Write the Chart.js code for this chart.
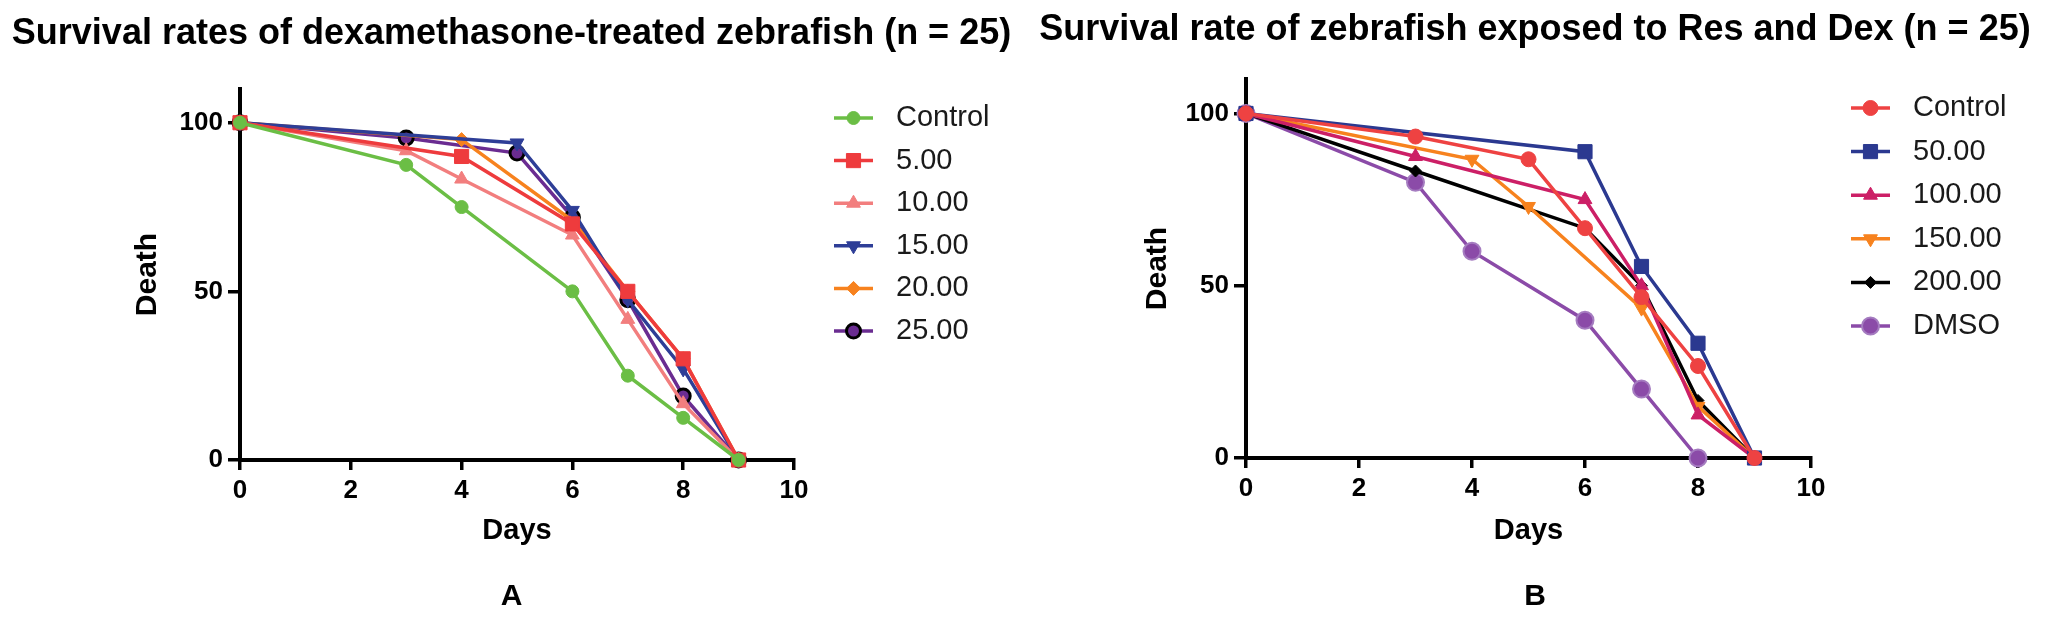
<!DOCTYPE html>
<html>
<head>
<meta charset="utf-8">
<title>Sobrevivência de zebrafish</title>
<script src="https://cdn.jsdelivr.net/npm/chart.js@4.4.1/dist/chart.umd.min.js"></script>
<style>
    html, body { margin: 0; padding: 0; background: #fff; }
    .linha { display: flex; width: 2047px; height: 618px; }
    canvas { display: block; }
</style>
</head>
<body>
<div class="linha">
    <canvas id="graficoA" width="1023" height="618"></canvas>
    <canvas id="graficoB" width="1024" height="618"></canvas>
</div>
<script>
'use strict';

// Marcas dos eixos
const xTicks = [0, 2, 4, 6, 8, 10];
const yTicks = [0, 50, 100];

// Painel A - dexametasona
const aLabels = ['Control', '5.00', '10.00', '15.00', '20.00', '25.00'];
const aControlDays = [0, 3, 4, 6, 7, 8, 9];
const aControlVals = [100, 87.5, 75, 50, 25, 12.5, 0];
const a5Days = [0, 4, 6, 7, 8, 9];
const a5Vals = [100, 90, 70, 50, 30, 0];
const a10Days = [0, 3, 4, 6, 7, 8, 9];
const a10Vals = [100, 91.7, 83.3, 66.7, 41.7, 16.7, 0];
const a15Days = [0, 5, 6, 7, 8, 9];
const a15Vals = [100, 94, 74, 47.5, 27, 0];
const a20Days = [0, 4, 6, 7, 8, 9];
const a20Vals = [100, 95, 71, 50, 30, 0];
const a25Days = [0, 3, 5, 6, 7, 8, 9];
const a25Vals = [100, 95.5, 91, 72, 47.5, 19, 0];

// Painel B - resveratrol + dexametasona
const bLabels = ['Control', '50.00', '100.00', '150.00', '200.00', 'DMSO'];
const bControlDays = [0, 3, 5, 6, 7, 8, 9];
const bControlVals = [100, 93.3, 86.7, 66.7, 46.7, 26.7, 0];
const b50Days = [0, 6, 7, 8, 9];
const b50Vals = [100, 88.9, 55.6, 33.3, 0];
const b100Days = [0, 3, 6, 7, 8, 9];
const b100Vals = [100, 87.5, 75, 50, 12.5, 0];
const b150Days = [0, 4, 5, 7, 8, 9];
const b150Vals = [100, 86.7, 73, 43.5, 15, 0];
const b200Days = [0, 3, 6, 7, 8, 9];
const b200Vals = [100, 83.3, 66.7, 50, 16.7, 0];
const bDmsoDays = [0, 3, 4, 6, 7, 8];
const bDmsoVals = [100, 80, 60, 40, 20, 0];

Chart.defaults.font.family = "'Liberation Sans', Arial, sans-serif";
Chart.defaults.color = '#000';

function pontos(dias, valores) {
    return dias.map((d, i) => ({ x: d, y: valores[i] }));
}

function serie(label, dias, valores, cor, estilo) {
    return Object.assign({
        label: label,
        data: pontos(dias, valores),
        xAxisID: 'x',
        yAxisID: 'y',
        borderColor: cor,
        backgroundColor: cor,
        pointBackgroundColor: cor,
        pointBorderColor: cor,
        borderWidth: 3.5,
        pointBorderWidth: 1,
        pointRadius: 7,
        pointStyle: 'circle',
        pointRotation: 0,
        tension: 0,
        clip: false,
    }, estilo);
}

// Legenda ao lado: linha + marcador + texto
const legendaLateral = {
    id: 'legendaLateral',
    afterDraw(chart, args, opts) {
        const ctx = chart.ctx;
        const area = chart.chartArea;
        ctx.save();
        chart.data.datasets.forEach((ds, i) => {
            const y = area.top + opts.offsetY + i * opts.rowGap;
            const x0 = area.right + opts.offsetX;
            ctx.strokeStyle = ds.borderColor;
            ctx.lineWidth = ds.borderWidth;
            ctx.beginPath();
            ctx.moveTo(x0, y);
            ctx.lineTo(x0 + opts.lineLength, y);
            ctx.stroke();
            ctx.fillStyle = ds.pointBackgroundColor;
            ctx.strokeStyle = ds.pointBorderColor;
            ctx.lineWidth = ds.pointBorderWidth;
            Chart.helpers.drawPoint(ctx, {
                pointStyle: ds.pointStyle,
                rotation: ds.pointRotation,
                radius: ds.pointRadius,
                borderWidth: ds.pointBorderWidth,
            }, x0 + opts.lineLength / 2, y);
            ctx.fillStyle = '#1a1a1a';
            ctx.font = "29px 'Liberation Sans', Arial, sans-serif";
            ctx.textAlign = 'left';
            ctx.textBaseline = 'middle';
            ctx.fillText(ds.label, area.right + opts.textX, y);
        });
        ctx.restore();
    },
};

function opcoes(cfg) {
    return {
        responsive: false,
        animation: false,
        devicePixelRatio: 1,
        layout: { padding: 0 },
        plugins: {
            legend: { display: false },
            tooltip: { enabled: false },
            title: {
                display: true,
                text: cfg.titulo,
                color: '#000',
                font: { size: 36, weight: 'bold', lineHeight: 1.2 },
                padding: { top: cfg.titleTop, bottom: cfg.titleBottom },
            },
            subtitle: {
                display: true,
                position: 'bottom',
                text: cfg.letra,
                color: '#000',
                font: { size: 30, weight: 'bold', lineHeight: 1.2 },
                padding: { top: 31, bottom: 3 },
            },
            legendaLateral: { offsetX: 40, lineLength: 39, textX: 102, offsetY: 29, rowGap: cfg.rowGap },
        },
        scales: {
            x: {
                type: 'linear',
                min: 0,
                max: 10,
                afterBuildTicks: (s) => { s.ticks = xTicks.map((v) => ({ value: v })); },
                afterFit: (s) => { s.height = cfg.xHeight; },
                grid: { drawOnChartArea: false, tickLength: 10, lineWidth: 3.5, color: '#000' },
                border: { display: true, width: 4, color: '#000' },
                ticks: { color: '#000', font: { size: 26, weight: 'bold' }, padding: 5, maxRotation: 0 },
                title: {
                    display: true,
                    text: 'Days',
                    color: '#000',
                    font: { size: 29, weight: 'bold', lineHeight: 1.2 },
                    padding: { top: 0, bottom: 0 },
                },
            },
            y: {
                type: 'linear',
                position: 'left',
                min: 0,
                max: 110,
                afterBuildTicks: (s) => { s.ticks = yTicks.map((v) => ({ value: v })); },
                afterFit: (s) => { s.width = cfg.yWidth; },
                grid: { drawOnChartArea: false, tickLength: 12, lineWidth: 3.5, color: '#000' },
                border: { display: true, width: 4, color: '#000' },
                ticks: { color: '#000', font: { size: 26, weight: 'bold' }, padding: 5 },
                title: {
                    display: true,
                    text: 'Death',
                    color: '#000',
                    font: { size: 30, weight: 'bold', lineHeight: 1.2 },
                    padding: { top: cfg.deathPad, bottom: 0 },
                },
            },
            // espaço reservado para a legenda à direita
            legenda: {
                type: 'linear',
                position: 'right',
                display: true,
                grid: { display: false, drawTicks: false },
                border: { display: false },
                ticks: { display: false },
                afterFit: (s) => { s.width = cfg.legendWidth; },
            },
        },
    };
}

/* Gráfico A */
new Chart(document.getElementById('graficoA'), {
    type: 'line',
    data: {
        datasets: [
            serie(aLabels[0], aControlDays, aControlVals, '#6BBE45', { pointRadius: 6.5 }),
            serie(aLabels[1], a5Days, a5Vals, '#EE3B3D', { pointStyle: 'rect', pointRadius: 10 }),
            serie(aLabels[2], a10Days, a10Vals, '#F27E7E', { pointStyle: 'triangle', pointRadius: 8 }),
            serie(aLabels[3], a15Days, a15Vals, '#2E3E97', { pointStyle: 'triangle', pointRotation: 180, pointRadius: 8 }),
            serie(aLabels[4], a20Days, a20Vals, '#F7821E', { pointStyle: 'rectRot', pointRadius: 7 }),
            serie(aLabels[5], a25Days, a25Vals, '#6A2C91', { pointBorderColor: '#000', pointBorderWidth: 3, pointRadius: 7 }),
        ],
    },
    options: opcoes({
        titulo: 'Survival rates of dexamethasone-treated zebrafish (n = 25)',
        letra: 'A',
        legendWidth: 229,
        titleTop: 12,
        titleBottom: 33.8,
        xHeight: 88,
        yWidth: 240,
        deathPad: 130,
        rowGap: 42.6,
    }),
    plugins: [legendaLateral],
});

/* Gráfico B */
new Chart(document.getElementById('graficoB'), {
    type: 'line',
    data: {
        datasets: [
            serie(bLabels[0], bControlDays, bControlVals, '#EE4242', { pointRadius: 7.5 }),
            serie(bLabels[1], b50Days, b50Vals, '#2B3990', { pointStyle: 'rect', pointRadius: 10 }),
            serie(bLabels[2], b100Days, b100Vals, '#CC1F66', { pointStyle: 'triangle', pointRadius: 8 }),
            serie(bLabels[3], b150Days, b150Vals, '#F7821E', { pointStyle: 'triangle', pointRotation: 180, pointRadius: 8 }),
            serie(bLabels[4], b200Days, b200Vals, '#000000', { pointStyle: 'rectRot', pointRadius: 6 }),
            serie(bLabels[5], bDmsoDays, bDmsoVals, '#8B4BA8', { pointBorderColor: '#A57CC0', pointBorderWidth: 2, pointRadius: 8.5 }),
        ],
    },
    options: opcoes({
        titulo: 'Survival rate of zebrafish exposed to Res and Dex (n = 25)',
        letra: 'B',
        legendWidth: 236,
        titleTop: 8,
        titleBottom: 27.8,
        xHeight: 90,
        yWidth: 223,
        deathPad: 117,
        rowGap: 43.6,
    }),
    plugins: [legendaLateral],
});
</script>
</body>
</html>
